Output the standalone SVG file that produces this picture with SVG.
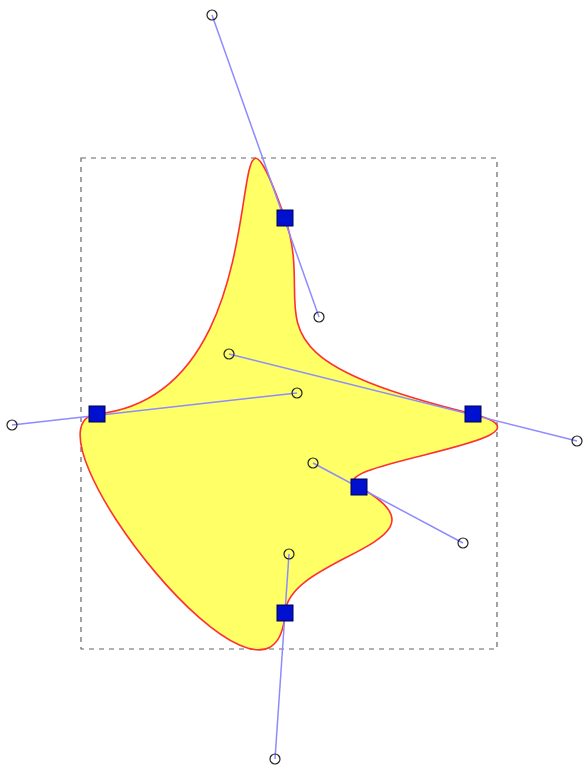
<svg xmlns="http://www.w3.org/2000/svg" width="585" height="770" viewBox="0 0 585 770">
<style>
.bbox{fill:none;stroke:#666;stroke-width:1.2;stroke-dasharray:5,5}
.shape{fill:#ffff66;stroke:#ff3030;stroke-width:1.6}
.handle{stroke:#8c8cff;stroke-width:1.5;fill:none}
.cp{fill:none;stroke:#222;stroke-width:1.2}
.anchor{fill:#0010d0;stroke:#000050;stroke-width:1}
</style>
<rect fill="#fff" width="585" height="770"/>
<rect class="bbox" x="81" y="158" width="416" height="491"/>
<g id="shape">
<path class="shape" d="M285,218 C319,317 229,354 473,414 C577,441 313,463 359,487 C463,543 289,554 285,613 C275,759 12,425 97,414 C297,393 212,15 285,218 Z"/>
</g>
<g id="connectors">
<line class="handle" x1="212" y1="15" x2="319" y2="317"/>
<line class="handle" x1="229" y1="354" x2="577" y2="441"/>
<line class="handle" x1="313" y1="463" x2="463" y2="543"/>
<line class="handle" x1="289" y1="554" x2="275" y2="759"/>
<line class="handle" x1="12" y1="425" x2="297" y2="393"/>
</g>
<g id="control-points">
<circle class="cp" cx="212" cy="15" r="5"/>
<circle class="cp" cx="319" cy="317" r="5"/>
<circle class="cp" cx="229" cy="354" r="5"/>
<circle class="cp" cx="577" cy="441" r="5"/>
<circle class="cp" cx="313" cy="463" r="5"/>
<circle class="cp" cx="463" cy="543" r="5"/>
<circle class="cp" cx="289" cy="554" r="5"/>
<circle class="cp" cx="275" cy="759" r="5"/>
<circle class="cp" cx="12" cy="425" r="5"/>
<circle class="cp" cx="297" cy="393" r="5"/>
</g>
<g id="anchors">
<rect class="anchor" x="277" y="210" width="16" height="16"/>
<rect class="anchor" x="465" y="406" width="16" height="16"/>
<rect class="anchor" x="351" y="479" width="16" height="16"/>
<rect class="anchor" x="277" y="605" width="16" height="16"/>
<rect class="anchor" x="89" y="406" width="16" height="16"/>
</g>
</svg>
